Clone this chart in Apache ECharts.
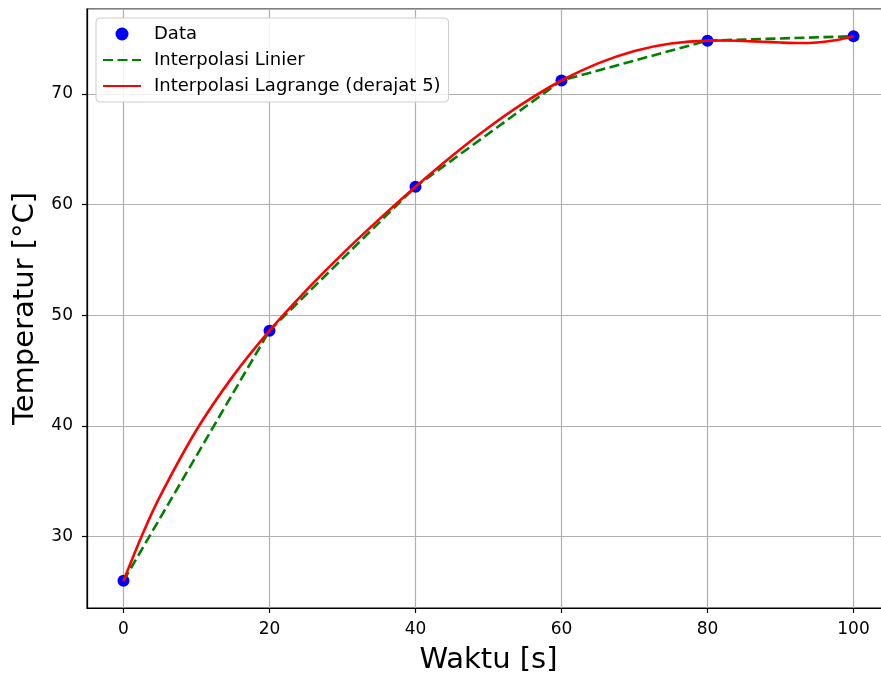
<!DOCTYPE html>
<html>
<head>
<meta charset="utf-8">
<script src="https://cdn.jsdelivr.net/npm/echarts@6/dist/echarts.min.js"></script>
<style>
  html, body { margin: 0; padding: 0; background: #fff; overflow: hidden; }
  #chart { width: 881px; height: 674px; }
</style>
</head>
<body>
<div id="chart"></div>
<script>
// Measured samples: time [s] and temperature [°C]
const timeS = [0, 20, 40, 60, 80, 100];
const tempC = [26.0, 48.6, 61.6, 71.2, 74.8, 75.2];

// Degree-5 Lagrange curve samples (denser where it bends most)
const lagrangeTime = [0, 2.5, 5, 10, 15, 20, 25, 30, 35, 40, 45, 50, 55, 60, 65, 70, 75, 80, 82.5, 85, 87.5, 90, 92.5, 95, 97.5, 100];
const lagrangeTemp = [26.00, 30.05, 33.62, 39.62, 44.49, 48.60, 52.22, 55.54, 58.65, 61.60, 64.38, 66.95, 69.24, 71.20, 72.75, 73.87, 74.54, 74.80, 74.81, 74.77, 74.70, 74.63, 74.59, 74.64, 74.83, 75.20];

// Axis ranges and tick labels
const xRange = [-5, 105];
const yRange = [23.54, 77.66];
const xTicks = [0, 20, 40, 60, 80, 100];
const yTicks = [30, 40, 50, 60, 70];

const FONT = 'DejaVu Sans';
const pairs = (xs, ys) => xs.map((x, i) => [x, ys[i]]);

const chart = echarts.init(document.getElementById('chart'), null, { renderer: 'canvas' });

const tickFmt = list => v => (list.some(t => Math.abs(t - v) < 1e-6) ? String(v) : '');

chart.setOption({
  animation: false,
  backgroundColor: '#fff',
  grid: {
    left: 87, top: 9, width: 803, height: 599,
    outerBoundsMode: 'none',
    containLabel: false,
    show: true, borderColor: '#000', borderWidth: 1.2, backgroundColor: 'transparent'
  },
  legend: {
    orient: 'vertical',
    left: 96, top: 18,
    padding: [6, 8, 6, 6],
    itemGap: 6,
    itemWidth: 38,
    itemHeight: 13,
    backgroundColor: 'rgba(255,255,255,0.85)',
    borderColor: '#cccccc',
    borderWidth: 1,
    borderRadius: 4,
    textStyle: { fontFamily: FONT, fontSize: 18, color: '#000', lineHeight: 20, padding: [0, 0, 0, 8] },
    data: [
      { name: 'Data', icon: 'circle' },
      { name: 'Interpolasi Linier', itemStyle: { opacity: 0 } },
      { name: 'Interpolasi Lagrange (derajat 5)', itemStyle: { opacity: 0 } }
    ]
  },
  xAxis: {
    type: 'value',
    min: xRange[0], max: xRange[1],
    name: 'Waktu [s]',
    nameLocation: 'middle',
    nameGap: 38,
    nameTextStyle: { fontFamily: FONT, fontSize: 29, color: '#000' },
    axisLine: { onZero: false, lineStyle: { color: '#000', width: 1.2 } },
    axisTick: { show: true, length: 5, lineStyle: { color: '#000', width: 1.2 } },
    axisLabel: {
      fontFamily: FONT, fontSize: 17, color: '#000', margin: 13,
      showMinLabel: false, showMaxLabel: false,
      formatter: tickFmt(xTicks)
    },
    splitLine: { show: true, lineStyle: { color: '#b0b0b0', width: 1.2 } }
  },
  yAxis: {
    type: 'value',
    min: yRange[0], max: yRange[1],
    name: 'Temperatur [°C]',
    nameLocation: 'middle',
    nameGap: 45,
    nameTextStyle: { fontFamily: FONT, fontSize: 29, color: '#000' },
    axisLine: { onZero: false, lineStyle: { color: '#000', width: 1.2 } },
    axisTick: { show: true, length: 5, lineStyle: { color: '#000', width: 1.2 } },
    axisLabel: {
      fontFamily: FONT, fontSize: 17, color: '#000', margin: 14,
      showMinLabel: false, showMaxLabel: false,
      formatter: tickFmt(yTicks)
    },
    splitLine: { show: true, lineStyle: { color: '#b0b0b0', width: 1.2 } }
  },
  series: [
    {
      name: 'Data',
      type: 'scatter',
      data: pairs(timeS, tempC),
      symbol: 'circle',
      symbolSize: 12,
      itemStyle: { color: '#0000ff', opacity: 1 },
      z: 2
    },
    {
      name: 'Interpolasi Linier',
      type: 'line',
      data: pairs(timeS, tempC),
      symbol: 'none',
      itemStyle: { color: '#008000' },
      lineStyle: { color: '#008000', width: 2.6, type: [10, 4.5] },
      z: 3
    },
    {
      name: 'Interpolasi Lagrange (derajat 5)',
      type: 'line',
      data: pairs(lagrangeTime, lagrangeTemp),
      symbol: 'none',
      smooth: 0.3,
      itemStyle: { color: '#ff0000' },
      lineStyle: { color: '#ff0000', width: 2.6 },
      z: 4
    }
  ]
});
</script>
</body>
</html>
